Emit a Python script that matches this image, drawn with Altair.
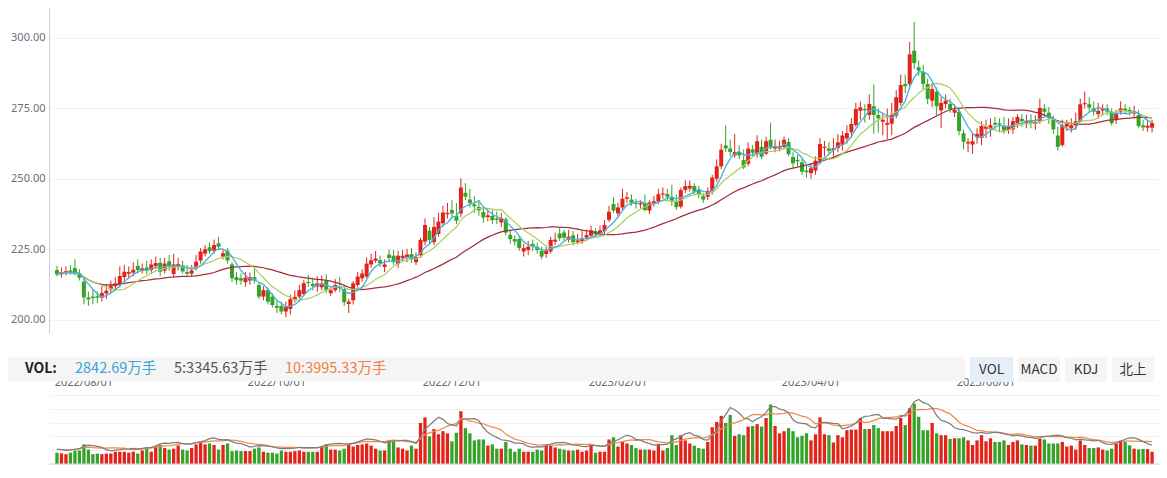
import altair as alt
import pandas as pd

# ---------------- data ----------------
open_ = [
    217.7, 216.2, 216.6, 217.6, 218.4, 216.6, 213.6, 208.0, 208.3, 208.4,
    207.9, 209.4, 210.8, 212.0, 212.4, 215.2, 216.4, 216.8, 219.2, 217.6,
    218.6, 217.7, 219.1, 220.3, 217.5, 220.8, 216.3, 219.0, 219.4, 217.0,
    216.4, 218.4, 221.1, 223.5, 225.8, 224.6, 227.2, 222.5, 224.6, 219.7,
    215.2, 214.8, 213.4, 214.0, 215.2, 212.4, 208.3, 210.6, 208.3, 205.0,
    205.0, 203.0, 203.9, 207.2, 208.3, 209.2, 213.5, 212.8, 211.8, 211.6,
    213.9, 209.5, 210.6, 212.0, 211.0, 205.7, 207.0, 212.4, 214.8, 215.4,
    219.7, 221.0, 221.2, 218.8, 223.2, 222.8, 219.8, 222.0, 222.0, 223.4,
    220.5, 223.0, 227.8, 231.7, 227.6, 230.5, 234.3, 237.5, 239.0, 236.9,
    237.8, 245.1, 242.7, 241.0, 240.1, 238.3, 236.5, 236.9, 236.0, 234.6,
    235.7, 230.2, 228.7, 228.7, 224.3, 224.8, 227.0, 226.0, 224.6, 223.4,
    224.3, 227.8, 230.7, 231.0, 228.5, 230.0, 227.6, 228.0, 229.2, 229.9,
    231.5, 230.6, 231.5, 235.5, 241.1, 237.8, 239.9, 243.0, 242.7, 241.5,
    241.0, 241.4, 238.8, 241.5, 242.0, 244.5, 244.7, 243.7, 242.0, 240.2,
    246.1, 246.6, 247.5, 246.2, 243.9, 243.7, 245.8, 250.1, 254.5, 261.9,
    260.8, 258.4, 259.6, 256.7, 255.4, 260.5, 258.8, 261.4, 259.0, 263.9,
    260.8, 260.8, 261.4, 263.1, 257.8, 256.8, 255.9, 253.0, 252.1, 253.0,
    256.5, 261.0, 260.8, 260.2, 261.0, 262.1, 264.4, 266.6, 269.2, 274.2,
    274.8, 272.7, 275.8, 272.7, 270.3, 269.2, 269.6, 272.5, 277.0, 283.7,
    283.7, 295.5, 289.6, 288.0, 283.7, 277.8, 281.0, 274.3, 276.6, 276.6,
    273.5, 273.9, 266.2, 262.6, 262.2, 265.0, 264.6, 267.8, 267.6, 269.9,
    269.8, 268.8, 267.4, 267.6, 269.8, 271.3, 269.8, 270.5, 269.5, 270.5,
    275.0, 273.5, 271.1, 265.4, 262.0, 268.6, 268.0, 269.0, 270.5, 276.5,
    276.5, 275.1, 273.0, 274.3, 275.0, 273.8, 270.9, 273.9, 274.9, 274.5,
    273.2, 272.7, 269.0, 268.2, 268.2,
]
close = [
    216.2, 217.0, 217.3, 216.9, 216.3, 215.0, 208.0, 207.3, 207.8, 207.9,
    209.6, 210.4, 212.3, 213.0, 215.6, 217.1, 217.0, 217.8, 217.7, 218.3,
    217.5, 219.7, 220.2, 217.1, 220.0, 219.0, 219.7, 219.8, 217.2, 216.4,
    217.6, 220.7, 224.3, 225.1, 224.4, 226.6, 226.0, 223.7, 221.1, 214.8,
    214.1, 214.0, 215.0, 215.2, 214.0, 208.3, 210.6, 206.5, 205.3, 204.3,
    203.0, 204.6, 207.4, 208.2, 210.6, 213.0, 213.1, 212.0, 213.0, 213.0,
    210.6, 210.6, 212.4, 211.3, 206.3, 206.5, 213.0, 215.4, 216.5, 220.0,
    221.2, 221.8, 220.0, 219.7, 222.0, 220.5, 222.8, 222.8, 223.2, 221.5,
    222.3, 228.4, 233.7, 228.4, 233.0, 234.9, 238.1, 238.0, 237.8, 235.2,
    247.0, 243.7, 241.5, 240.3, 238.9, 236.3, 237.1, 235.4, 235.5, 236.1,
    231.0, 228.7, 227.8, 225.5, 225.5, 226.0, 226.0, 224.8, 222.5, 224.6,
    228.4, 228.5, 229.0, 229.2, 229.5, 227.6, 228.2, 228.9, 230.1, 231.8,
    230.3, 231.8, 233.7, 238.4, 238.8, 239.9, 243.0, 243.5, 241.6, 241.2,
    241.5, 239.0, 241.7, 242.1, 244.6, 244.9, 243.7, 242.0, 240.0, 246.1,
    247.5, 247.6, 245.5, 244.6, 242.7, 245.8, 250.5, 254.5, 260.4, 260.8,
    259.6, 259.6, 258.4, 254.1, 260.8, 259.3, 263.4, 257.9, 263.4, 261.4,
    261.6, 261.6, 263.9, 258.8, 255.6, 256.3, 252.6, 252.4, 253.8, 256.5,
    262.4, 261.4, 260.0, 260.9, 263.0, 265.4, 266.3, 269.5, 274.8, 275.4,
    274.4, 276.6, 272.7, 271.5, 271.0, 269.9, 273.1, 279.0, 283.3, 282.9,
    294.2, 291.1, 288.4, 283.7, 278.4, 281.9, 275.8, 277.0, 277.8, 274.8,
    274.5, 267.0, 263.2, 263.1, 263.4, 266.0, 268.8, 268.6, 269.1, 269.3,
    269.3, 267.2, 268.6, 270.5, 272.0, 270.5, 270.7, 270.0, 270.3, 275.2,
    273.8, 271.7, 267.6, 261.4, 269.0, 269.6, 269.1, 270.5, 276.5, 276.9,
    275.3, 273.9, 274.2, 275.0, 273.9, 269.8, 273.2, 275.0, 274.2, 273.9,
    274.0, 268.8, 268.3, 268.9, 269.8,
]
high = [
    219.2, 218.6, 219.0, 219.4, 221.5, 218.0, 214.8, 210.0, 210.8, 210.2,
    212.0, 212.5, 214.0, 215.2, 219.0, 219.5, 219.0, 220.5, 221.5, 220.0,
    221.0, 221.5, 222.5, 222.0, 222.0, 223.0, 223.5, 222.0, 221.0, 219.5,
    219.5, 223.0, 225.5, 226.5, 227.5, 228.5, 229.5, 225.0, 225.5, 220.5,
    217.0, 216.5, 217.0, 216.8, 218.0, 213.5, 212.0, 211.5, 209.5, 207.0,
    206.5, 206.5, 209.0, 210.5, 212.5, 214.2, 216.0, 215.0, 215.5, 215.8,
    216.2, 212.0, 214.5, 215.2, 212.0, 207.5, 213.8, 217.0, 218.0, 222.2,
    223.5, 224.5, 222.8, 221.5, 225.0, 224.8, 224.5, 224.8, 225.2, 225.5,
    224.0, 229.2, 236.0, 233.0, 236.5, 238.0, 240.5, 241.5, 242.5, 241.5,
    250.2, 248.5, 246.5, 244.0, 242.5, 240.5, 239.5, 239.0, 238.5, 238.0,
    236.5, 232.0, 230.0, 229.5, 227.0, 228.0, 228.5, 227.5, 226.0, 226.0,
    229.5, 231.0, 232.5, 232.0, 232.0, 231.5, 230.5, 231.5, 232.0, 233.5,
    232.5, 233.5, 235.5, 240.5, 243.5, 241.5, 246.5, 245.5, 244.5, 243.0,
    242.5, 244.5, 242.5, 244.0, 246.5, 247.0, 246.5, 248.0, 244.5, 247.0,
    249.5, 249.5, 248.5, 247.5, 245.0, 247.0, 251.5, 257.0, 262.5, 269.0,
    264.0, 266.0, 262.0, 260.5, 263.0, 262.0, 265.5, 264.0, 265.0, 270.0,
    264.0, 263.5, 265.0, 264.5, 259.5, 258.5, 257.0, 255.0, 255.5, 258.0,
    264.5, 263.5, 263.0, 264.5, 266.0, 267.0, 269.0, 271.5, 277.0, 277.5,
    276.5, 280.0, 283.5, 275.0, 273.5, 275.0, 277.0, 281.5, 287.0, 287.0,
    298.6, 305.7, 292.0, 290.5, 285.5, 284.0, 282.5, 279.0, 280.0, 278.5,
    276.5, 275.0, 267.5, 264.5, 266.5, 268.0, 270.5, 271.0, 271.5, 272.0,
    271.5, 272.0, 271.5, 272.0, 273.0, 273.0, 272.8, 273.0, 272.5, 278.5,
    276.5, 275.5, 272.5, 268.5, 271.0, 271.0, 271.5, 273.5, 278.5, 281.0,
    279.0, 277.5, 277.0, 276.5, 276.5, 275.0, 274.5, 277.5, 276.5, 275.5,
    276.0, 274.5, 271.0, 270.5, 271.0,
]
low = [
    215.5, 215.0, 215.8, 216.0, 215.8, 214.0, 205.5, 205.0, 205.6, 206.0,
    206.5, 207.5, 209.5, 210.6, 211.5, 213.5, 214.5, 215.5, 216.5, 216.5,
    216.2, 216.5, 218.0, 215.5, 216.5, 217.5, 215.0, 217.5, 216.5, 215.8,
    215.5, 217.5, 220.0, 222.5, 223.5, 223.5, 224.8, 221.5, 220.0, 213.5,
    212.5, 212.5, 211.8, 212.5, 213.0, 207.5, 207.0, 205.5, 204.5, 202.5,
    202.0, 201.0, 202.0, 206.2, 207.5, 208.5, 211.8, 210.5, 210.0, 210.5,
    209.5, 208.5, 209.8, 210.0, 205.0, 202.5, 205.5, 211.5, 213.5, 214.8,
    218.5, 220.2, 218.8, 217.0, 220.5, 219.5, 218.5, 220.8, 220.5, 220.2,
    219.5, 222.0, 226.5, 227.0, 226.5, 229.5, 233.0, 236.0, 236.5, 234.0,
    236.5, 242.5, 240.0, 238.0, 237.0, 234.5, 235.0, 234.0, 234.0, 233.0,
    230.0, 227.0, 226.5, 224.5, 222.5, 223.0, 224.5, 223.5, 221.5, 222.0,
    223.5, 226.5, 228.0, 228.0, 227.5, 226.5, 226.8, 227.0, 228.0, 229.0,
    229.5, 229.5, 230.5, 234.8, 238.0, 236.5, 238.8, 241.5, 240.5, 239.5,
    239.5, 238.5, 237.5, 240.2, 241.0, 243.0, 242.5, 240.5, 239.0, 239.5,
    245.0, 245.5, 244.5, 243.2, 241.5, 242.5, 244.5, 249.0, 253.5, 259.5,
    258.0, 257.5, 257.0, 253.5, 254.5, 258.0, 257.5, 257.0, 258.5, 260.5,
    259.5, 259.8, 260.5, 258.0, 254.0, 254.5, 251.5, 250.5, 250.0, 251.5,
    255.5, 258.0, 258.5, 258.0, 259.5, 260.0, 262.5, 264.5, 268.5, 271.0,
    270.0, 271.0, 266.0, 266.5, 265.5, 264.2, 265.5, 271.5, 276.0, 280.5,
    283.0, 289.0, 286.5, 281.5, 276.5, 275.5, 272.5, 268.0, 275.0, 273.5,
    272.0, 265.5, 260.5, 259.5, 259.0, 262.5, 262.0, 264.5, 265.0, 267.5,
    266.5, 266.0, 266.0, 266.0, 268.0, 268.5, 268.0, 268.0, 267.5, 269.5,
    272.5, 269.5, 266.0, 260.0, 261.5, 267.0, 266.5, 267.5, 270.0, 275.0,
    273.5, 272.5, 271.5, 272.5, 272.5, 269.0, 269.5, 272.8, 273.0, 272.5,
    271.5, 268.0, 267.0, 266.8, 266.5,
]
# volume, 万手
volume = [
    2627, 2485, 2272, 2627, 3124, 3124, 4544, 3337, 2272, 2414,
    2272, 2414, 2414, 2840, 2840, 2840, 2627, 2840, 2414, 3124,
    3550, 2840, 4047, 4402, 3692, 3337, 3550, 4260, 3337, 3124,
    3692, 4544, 4970, 4544, 4757, 4402, 3337, 4402, 4757, 2982,
    3124, 2982, 2982, 2982, 3550, 3834, 2840, 2627, 2627, 2414,
    3124, 2840, 2840, 2982, 3124, 2840, 2840, 2840, 2840, 4047,
    4544, 3337, 3337, 3124, 3550, 4544, 4047, 4402, 4544, 4757,
    4260, 3550, 3124, 3124, 5467, 5112, 3834, 3550, 3124, 4260,
    3550, 9514, 10792, 6390, 8094, 6887, 7597, 7100, 5254, 7242,
    12212, 8307, 7100, 5467, 5680, 5680, 4260, 4544, 3550, 3550,
    5112, 3550, 2840, 3550, 2840, 2840, 2840, 3337, 3124, 4260,
    4260, 3834, 3550, 3337, 3124, 3124, 3337, 2840, 3124, 4402,
    2627, 2840, 2840, 5680, 6177, 4047, 5112, 4757, 4402, 3692,
    3337, 3337, 3337, 3124, 4402, 3124, 3692, 6674, 4402, 6674,
    5467, 4757, 4260, 3692, 3550, 5112, 8520, 9727, 11147, 9514,
    11360, 6532, 6887, 6674, 8662, 8804, 9230, 8662, 10650, 13774,
    8804, 7100, 7597, 8307, 7597, 6177, 6532, 7100, 5467, 6887,
    10792, 6887, 6674, 4970, 6674, 6177, 7810, 7952, 7952, 10650,
    8094, 8094, 9017, 8307, 7597, 7597, 7597, 8804, 10650, 9017,
    12922, 13987, 10934, 7810, 7810, 9514, 7100, 6674, 6674, 5822,
    5964, 5964, 6177, 5467, 4402, 5467, 6674, 5254, 5964, 5112,
    5112, 5467, 4402, 5112, 5467, 4544, 4402, 4260, 4260, 5822,
    5680, 4757, 4757, 4757, 5112, 4047, 4260, 3337, 5467, 4402,
    3692, 3692, 3834, 3337, 3124, 3550, 4750, 5400, 5200, 4325,
    3550, 3400, 3480, 3455, 2842.69,
]

date_idx = [6, 49, 88, 125, 168, 207]
date_labels = ["2022/08/01", "2022/10/01", "2022/12/01", "2023/02/01", "2023/04/01", "2023/06/01"]
price_ticks = [200, 225, 250, 275, 300]
vol_ticks = [0, 3195, 6390, 9585, 12780, 15975]

header_vol = "VOL:"
header_cur = "2842.69万手"
header_ma5 = "5:3345.63万手"
header_ma10 = "10:3995.33万手"
buttons = ["VOL", "MACD", "KDJ", "北上"]

# ---------------- styling ----------------
RED = "#e3231a"
GREEN = "#34a327"
MA5_C = "#48b3e0"
MA10_C = "#aad062"
MA30_C = "#a22f39"
VMA5_C = "#7d7d7d"
VMA10_C = "#f08a4b"
FONT = "Noto Sans CJK SC"

W, H = 1110, 458

df = pd.DataFrame({
    "i": list(range(len(close))),
    "open": open_, "close": close, "high": high, "low": low, "vol": volume,
})
df["dir"] = ["up" if c >= o else "down" for o, c in zip(open_, close)]

xs = alt.Scale(domain=[-0.662, 244.43], nice=False, zero=False)
X = alt.X("i:Q", scale=xs, axis=None)
py = alt.Scale(domain=[195.39, 310.99], range=[325, -1], nice=False, zero=False)
vy = alt.Scale(domain=[0, 15975], range=[456, 387], nice=False, zero=False)
vly = alt.Scale(domain=[0, 12288], range=[456, 387], nice=False, zero=False)
col = alt.Color("dir:N", scale=alt.Scale(domain=["up", "down"], range=[RED, GREEN]), legend=None)

price_axis = alt.Axis(
    values=price_ticks, format=".2f", title=None, orient="left",
    labelColor="#6b6f7a", labelFontSize=11, labelFont="Noto Sans", labelPadding=4,
    ticks=False, domainColor="#c8d2e2", domainWidth=1,
    grid=True, gridColor="#eff1f5", gridWidth=1,
)
vol_axis = alt.Axis(
    values=vol_ticks, title=None, labels=False, ticks=False, domain=False,
    grid=True, gridColor="#eff1f5", gridWidth=1,
)

base = alt.Chart(df)

wick = base.mark_rule(strokeWidth=1).encode(
    x=X, y=alt.Y("low:Q", scale=py, axis=price_axis), y2="high:Q", color=col)
body = base.mark_bar(size=4.0).encode(
    x=X, y=alt.Y("open:Q", scale=py), y2="close:Q", color=col)


def ma_line(src, n, color, name, scale, hide_axis=False, width=1.25):
    y = alt.Y(f"{name}:Q", scale=scale, axis=None) if hide_axis else alt.Y(f"{name}:Q", scale=scale)
    return base.transform_window(
        **{name: f"mean({src})"}, frame=[-(n - 1), 0], sort=[{"field": "i"}]
    ).mark_line(color=color, strokeWidth=width).encode(x=X, y=y)


price = alt.layer(
    wick, body,
    ma_line("close", 30, MA30_C, "ma30", py),
    ma_line("close", 10, MA10_C, "ma10", py),
    ma_line("close", 5, MA5_C, "ma5", py, width=1.35),
)

vbar = base.mark_bar(size=3.3).encode(
    x=X, y=alt.Y("vol:Q", scale=vy, axis=vol_axis), color=col)
vbase = alt.Chart(pd.DataFrame({"v": [0]})).mark_rule(color="#cbd5e6", strokeWidth=1).encode(
    y=alt.Y("v:Q", scale=vy))
volume_layer = alt.layer(vbar, vbase)
vlines = alt.layer(
    ma_line("vol", 10, VMA10_C, "vma10", vly, hide_axis=True),
    ma_line("vol", 5, VMA5_C, "vma5", vly, hide_axis=True),
)

one = pd.DataFrame({"k": [0]})

dates = alt.Chart(pd.DataFrame({"idx": date_idx, "label": date_labels})).mark_text(
    fontSize=11, color="#666a73", font="Noto Sans", baseline="alphabetic", align="center"
).encode(x=alt.X("idx:Q", scale=xs, axis=None), y=alt.value(378), text="label:N")

band = alt.Chart(one).mark_rect(color="#f5f5f5").encode(
    x=alt.value(-41), x2=alt.value(916), y=alt.value(349), y2=alt.value(373))


def label(txt, x, color, bold=False, size=14.5):
    return alt.Chart(one).mark_text(
        text=txt, align="left", baseline="middle", fontSize=size, font=FONT,
        fontWeight="bold" if bold else "normal", color=color,
    ).encode(x=alt.value(x), y=alt.value(361))


head = [
    label(header_vol, -24, "#222222", bold=True, size=14),
    label(header_cur, 26, "#3aa3d8"),
    label(header_ma5, 125, "#555555"),
    label(header_ma10, 236, "#f07f45"),
]

btn_layout = [(921, 964, "#e6eef8"), (969, 1011, "#f5f5f5"), (1016, 1058, "#f5f5f5"), (1063, 1105, "#f5f5f5")]
btn_layers = []
for txt, (x0, x1, bg) in zip(buttons, btn_layout):
    btn_layers.append(alt.Chart(one).mark_rect(color=bg).encode(
        x=alt.value(x0), x2=alt.value(x1), y=alt.value(349), y2=alt.value(374)))
    btn_layers.append(alt.Chart(one).mark_text(
        text=txt, align="center", baseline="middle", fontSize=13.5, font=FONT, color="#333333"
    ).encode(x=alt.value((x0 + x1) / 2), y=alt.value(362)))

chart = alt.layer(
    price, volume_layer, vlines, dates, band, *head, *btn_layers
).resolve_scale(y="independent").properties(
    width=W, height=H,
    padding={"left": 41, "top": 0, "right": 0, "bottom": 0},
    autosize=alt.AutoSizeParams(type="none"),
    background="#ffffff",
).configure_view(strokeWidth=0)

chart.save("out.html", embed_options={"renderer": "svg", "actions": False})
